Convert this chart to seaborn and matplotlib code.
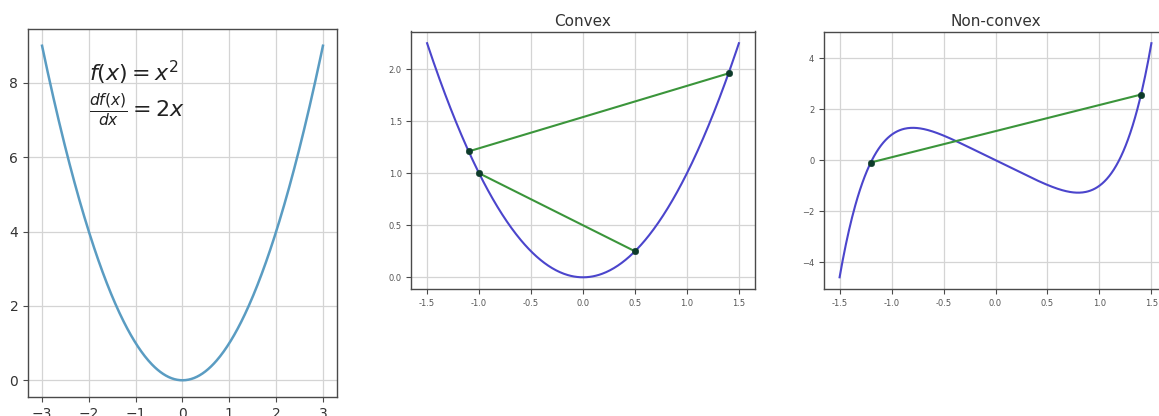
import numpy as np
import pandas as pd
import matplotlib
matplotlib.use("Agg")
import matplotlib.pyplot as plt
import seaborn as sns

# Polynomial coefficients (highest power first)
square_coeffs = [1.0, 0.0, 0.0]                    # f(x) = x^2
nonconvex_coeffs = [1.0, 0.0, 0.0, 0.0, -2.0, 0.0]  # f(x) = x^5 - 2x

# Plot ranges
left_range = (-3.0, 3.0)
side_range = (-1.5, 1.5)

# Chord endpoints (x positions) drawn on each curve
convex_chords = [(-1.1, 1.4), (-1.0, 0.5)]
nonconvex_chords = [(-1.2, 1.4)]

# Tick labels
left_xticks = [-3, -2, -1, 0, 1, 2, 3]
left_yticks = [0, 2, 4, 6, 8]
side_xticks = [-1.5, -1.0, -0.5, 0.0, 0.5, 1.0, 1.5]
convex_yticks = [0.0, 0.5, 1.0, 1.5, 2.0]
nonconvex_yticks = [-4, -2, 0, 2, 4]

titles = ["Convex", "Non-convex"]

CURVE_BLUE = "#5a9cc2"
CURVE_PURPLE = "#4b45cc"
CHORD_GREEN = "#3b953b"
POINT_DARK = "#0d3b2a"
GRID = "#d4d4d4"
SPINE = "#4a4a4a"

fig = plt.figure(figsize=(11.59, 4.16), dpi=100)
W, H = 1159.0, 416.0


def add_axes(px_left, px_top, px_right, px_bottom):
    return fig.add_axes([px_left / W, 1 - px_bottom / H,
                         (px_right - px_left) / W, (px_bottom - px_top) / H])


def style(ax, label_size, label_color):
    ax.grid(True, color=GRID, linewidth=0.9)
    ax.set_axisbelow(True)
    for s in ax.spines.values():
        s.set_color(SPINE)
        s.set_linewidth(1.0)
    ax.tick_params(labelsize=label_size, labelcolor=label_color,
                   color=SPINE, length=3.5, width=0.8)
    ax.set_xlabel("")
    ax.set_ylabel("")


def curve(coeffs, lo, hi, n=400):
    xs = np.linspace(lo, hi, n)
    return pd.DataFrame({"x": xs, "y": np.polyval(coeffs, xs)})


# --- Left: f(x) = x^2 ---
ax0 = add_axes(28, 29, 337, 397)
d0 = curve(square_coeffs, *left_range)
sns.lineplot(data=d0, x="x", y="y", ax=ax0, color=CURVE_BLUE, linewidth=1.8)
ax0.set_xticks(left_xticks)
ax0.set_yticks(left_yticks)
ax0.set_xticklabels([f"{t}".replace("-", "\u2212") for t in left_xticks])
style(ax0, 10, "#333333")
ax0.text(-2.0, 8.05, r"$f(x) = x^2$", fontsize=16, color="#222222")
ax0.text(-2.0, 7.05, r"$\frac{df(x)}{dx} = 2x$", fontsize=16, color="#222222")


def chord_panel(ax, coeffs, chords, yticks, title):
    d = curve(coeffs, *side_range)
    sns.lineplot(data=d, x="x", y="y", ax=ax, color=CURVE_PURPLE, linewidth=1.5)
    for a, b in chords:
        xs = np.array([a, b])
        pts = pd.DataFrame({"x": xs, "y": np.polyval(coeffs, xs)})
        sns.lineplot(data=pts, x="x", y="y", ax=ax, color=CHORD_GREEN,
                     linewidth=1.5)
        sns.scatterplot(data=pts, x="x", y="y", ax=ax, color=POINT_DARK,
                        s=22, edgecolor=POINT_DARK, zorder=5)
    ax.set_xticks(side_xticks)
    ax.set_yticks(yticks)
    style(ax, 6, "#555555")
    ax.set_title(title, fontsize=11, color="#333333", pad=4)


ax1 = add_axes(411.5, 31.5, 754.5, 289)
chord_panel(ax1, square_coeffs, convex_chords, convex_yticks, titles[0])
ax1.set_yticklabels([f"{t:.1f}" for t in convex_yticks])
ax1.set_xticklabels([f"{t:.1f}" for t in side_xticks])

ax2 = add_axes(824, 31.5, 1167, 289)
chord_panel(ax2, nonconvex_coeffs, nonconvex_chords, nonconvex_yticks, titles[1])
ax2.set_yticklabels([f"{t}".replace("-", "\u2212") for t in nonconvex_yticks])
ax2.set_xticklabels([f"{t:.1f}" for t in side_xticks])

fig.savefig("out.png", dpi=100)
